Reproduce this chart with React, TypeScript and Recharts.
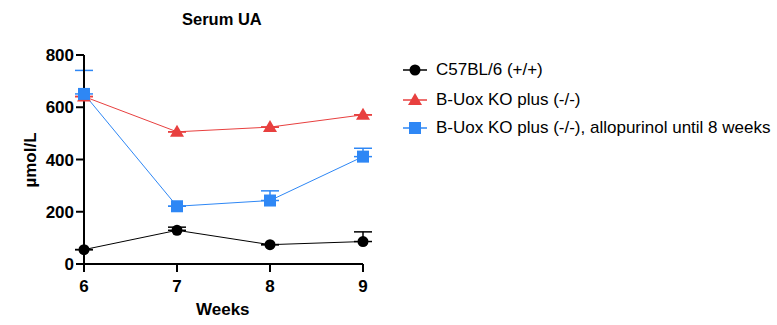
import React from "react";
import { CartesianGrid, ErrorBar, Line, LineChart, XAxis, YAxis } from "recharts";

const weeks = [6, 7, 8, 9];
const wtMean = [55, 129, 74, 86];
const wtErr = [0, 12, 0, 37];
const koMean = [641, 506, 524, 571];
const koErr = [0, 0, 0, 0];
const alloMean = [651, 221, 243, 411];
const alloErr = [90, 0, 37, 32];
const yTicks = [0, 200, 400, 600, 800];

const FONT = "'Liberation Sans', Arial, sans-serif";

const series = [
  { key: "wt", err: "wtE", name: "C57BL/6 (+/+)", color: "#000000", shape: "circle" },
  { key: "ko", err: "koE", name: "B-Uox KO plus (-/-)", color: "#E8403F", shape: "triangle" },
  { key: "allo", err: "alloE", name: "B-Uox KO plus (-/-), allopurinol until 8 weeks", color: "#2E87F5", shape: "square" },
];
const legendY = [70, 100, 128];

const data = weeks.map((w, i) => ({
  week: w,
  wt: wtMean[i],
  wtE: [0, wtErr[i]],
  ko: koMean[i],
  koE: [0, koErr[i]],
  allo: alloMean[i],
  alloE: [0, alloErr[i]],
}));

function Marker({ cx, cy, shape, color }: { cx: number; cy: number; shape: string; color: string }) {
  if (shape === "circle") return <circle cx={cx} cy={cy} r={5.5} fill={color} />;
  if (shape === "triangle")
    return <polygon points={`${cx},${cy - 7} ${cx - 7},${cy + 5} ${cx + 7},${cy + 5}`} fill={color} />;
  return <rect x={cx - 6} y={cy - 6} width={12} height={12} fill={color} />;
}

const tickStyle = { fontFamily: FONT, fontSize: 17, fontWeight: 700, fill: "#000" };

export default function App() {
  return (
    <div style={{ position: "relative", width: 777, height: 325, fontFamily: FONT }}>
      <style>{`body{margin:0}`}</style>
      <LineChart width={777} height={325} data={data} margin={{ top: 55, right: 414, bottom: 16, left: 0 }}>
        <CartesianGrid stroke="none" />
        <XAxis
          dataKey="week"
          type="number"
          domain={[6, 9]}
          ticks={weeks}
          height={45}
          tickSize={8}
          tickMargin={8}
          stroke="#000"
          strokeWidth={2}
          tick={tickStyle}
        />
        <YAxis
          domain={[0, 800]}
          ticks={yTicks}
          width={84}
          tickSize={8}
          tickMargin={2}
          stroke="#000"
          strokeWidth={2}
          tick={tickStyle}
        />
        {series.map((s) => (
          <Line
            key={s.key}
            dataKey={s.key}
            stroke={s.color}
            strokeWidth={1}
            isAnimationActive={false}
            dot={(p: any) => <Marker key={`${s.key}-${p.index}`} cx={p.cx} cy={p.cy} shape={s.shape} color={s.color} />}
            activeDot={false}
          >
            <ErrorBar dataKey={s.err} direction="y" width={9} stroke={s.color} strokeWidth={1.5} />
          </Line>
        ))}
      </LineChart>
      <div style={{ position: "absolute", left: 182, top: 10, fontSize: 16.5, fontWeight: 700 }}>Serum UA</div>
      <div style={{ position: "absolute", left: 196, top: 300, fontSize: 17, fontWeight: 700 }}>Weeks</div>
      <div
        style={{
          position: "absolute",
          left: 31,
          top: 160,
          fontSize: 17,
          fontWeight: 700,
          transform: "translate(-50%, -50%) rotate(-90deg)",
          whiteSpace: "nowrap",
        }}
      >
        µmol/L
      </div>
      {series.map((s, i) => (
        <div
          key={s.key}
          style={{ position: "absolute", left: 403, top: legendY[i] - 12, height: 24, display: "flex", alignItems: "center" }}
        >
          <svg width={24} height={14} style={{ marginRight: 9 }}>
            <line x1={0} y1={7} x2={24} y2={7} stroke={s.color} strokeWidth={1.5} />
            <Marker cx={12} cy={7} shape={s.shape} color={s.color} />
          </svg>
          <span style={{ fontSize: 17, color: "#000", whiteSpace: "nowrap" }}>{s.name}</span>
        </div>
      ))}
    </div>
  );
}
